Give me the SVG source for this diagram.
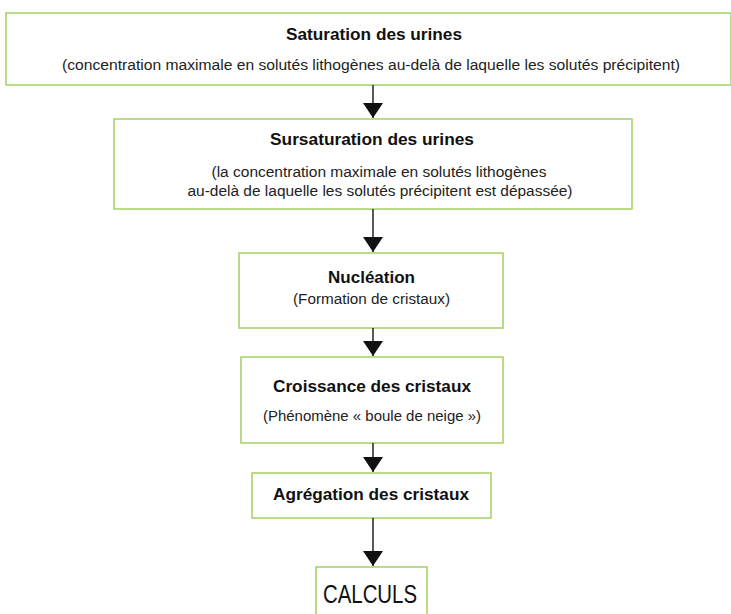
<svg xmlns="http://www.w3.org/2000/svg" width="731" height="614" viewBox="0 0 731 614">
<style>
.box{fill:#fff;stroke:#a9d46c;stroke-width:1.6}
.t{font-family:"Liberation Sans",Arial,sans-serif;font-weight:bold;font-size:17px;fill:#111;text-anchor:middle}
.s{font-family:"Liberation Sans",Arial,sans-serif;font-size:14px;fill:#222;text-anchor:middle}
.c{font-family:"Liberation Sans",Arial,sans-serif;font-size:25px;fill:#111;text-anchor:middle}
.a{stroke:#222;stroke-width:1.5;fill:none}
</style>
<defs>
<marker id="ah" markerWidth="16" markerHeight="20" refX="15" refY="10" orient="auto" markerUnits="userSpaceOnUse" viewBox="0 0 16 20">
<path d="M0,0 L15,10 L0,20 Z" fill="#111"/>
</marker>
</defs>
<rect width="731" height="614" fill="#fff"/>
<g id="n1">
<rect class="box" x="6" y="13" width="725" height="72"/>
<text class="t" x="374" y="40" textLength="176" lengthAdjust="spacingAndGlyphs">Saturation des urines</text>
<text class="s" x="371" y="70" textLength="618" lengthAdjust="spacingAndGlyphs">(concentration maximale en solutés lithogènes au-delà de laquelle les solutés précipitent)</text>
</g>
<g id="n2">
<rect class="box" x="114" y="119" width="518" height="90"/>
<text class="t" x="372" y="145" textLength="204" lengthAdjust="spacingAndGlyphs">Sursaturation des urines</text>
<text class="s" x="379" y="177" textLength="335" lengthAdjust="spacingAndGlyphs">(la concentration maximale en solutés lithogènes</text>
<text class="s" x="380" y="196" textLength="385" lengthAdjust="spacingAndGlyphs">au-delà de laquelle les solutés précipitent est dépassée)</text>
</g>
<g id="n3">
<rect class="box" x="239" y="253" width="264" height="75"/>
<text class="t" x="371.5" y="283" textLength="87" lengthAdjust="spacingAndGlyphs">Nucléation</text>
<text class="s" x="371.5" y="304" textLength="157" lengthAdjust="spacingAndGlyphs">(Formation de cristaux)</text>
</g>
<g id="n4">
<rect class="box" x="241" y="357" width="262" height="86"/>
<text class="t" x="372" y="392" textLength="198" lengthAdjust="spacingAndGlyphs">Croissance des cristaux</text>
<text class="s" x="372" y="421" textLength="218" lengthAdjust="spacingAndGlyphs">(Phénomène « boule de neige »)</text>
</g>
<g id="n5">
<rect class="box" x="252" y="473" width="239" height="45"/>
<text class="t" x="371" y="500" textLength="196" lengthAdjust="spacingAndGlyphs">Agrégation des cristaux</text>
</g>
<g id="n6">
<rect class="box" x="316" y="567" width="111" height="60"/>
<text class="c" x="370" y="603" textLength="94" lengthAdjust="spacingAndGlyphs">CALCULS</text>
</g>
<g id="connectors">
<line class="a" x1="373" y1="85" x2="373" y2="118" marker-end="url(#ah)"/>
<line class="a" x1="373" y1="209" x2="373" y2="252" marker-end="url(#ah)"/>
<line class="a" x1="373" y1="328" x2="373" y2="356" marker-end="url(#ah)"/>
<line class="a" x1="373" y1="443" x2="373" y2="472" marker-end="url(#ah)"/>
<line class="a" x1="373" y1="518" x2="373" y2="566" marker-end="url(#ah)"/>
</g>
</svg>
